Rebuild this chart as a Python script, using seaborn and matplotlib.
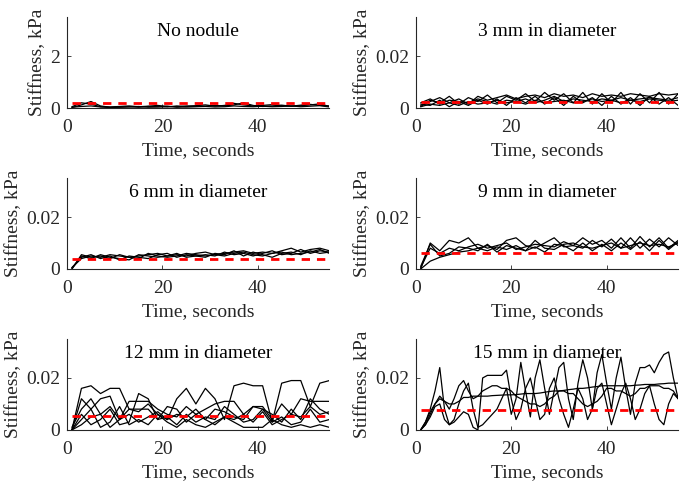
import matplotlib
matplotlib.use('Agg')
import matplotlib.pyplot as plt
import seaborn as sns

# time samples, seconds
t2 = [1, 3, 5, 7, 9, 11, 13, 15, 17, 19, 21, 23, 25, 27,
      29, 31, 33, 35, 37, 39, 41, 43, 45, 47, 49, 51, 53, 55]
t1 = [1, 2, 3, 4, 5, 6, 7, 8, 9, 10, 11, 12, 13, 14, 15, 16, 17, 18, 19,
      20, 21, 22, 23, 24, 25, 26, 27, 28, 29, 30, 31, 32, 33, 34, 35, 36, 37,
      38, 39, 40, 41, 42, 43, 44, 45, 46, 47, 48, 49, 50, 51, 52, 53, 54, 55]

# No nodule (kPa)
nn_a = [0.05, 0.20, 0.15, 0.05, 0.04, 0.06, 0.08, 0.05, 0.07, 0.10, 0.06, 0.05, 0.08, 0.09,
        0.12, 0.07, 0.10, 0.18, 0.12, 0.08, 0.10, 0.13, 0.09, 0.07, 0.11, 0.14, 0.10, 0.08]
nn_b = [0.02, 0.12, 0.25, 0.08, 0.03, 0.04, 0.05, 0.03, 0.06, 0.05, 0.04, 0.08, 0.05, 0.06,
        0.07, 0.10, 0.08, 0.12, 0.20, 0.10, 0.06, 0.08, 0.11, 0.07, 0.09, 0.12, 0.16, 0.06]
nn_c = [0.03, 0.06, 0.08, 0.04, 0.02, 0.03, 0.04, 0.06, 0.03, 0.04, 0.07, 0.03, 0.04, 0.05,
        0.06, 0.04, 0.05, 0.08, 0.06, 0.05, 0.07, 0.05, 0.06, 0.08, 0.05, 0.07, 0.09, 0.04]

# 3 mm
d3_a = [0.0005, 0.0030, 0.0020, 0.0045, 0.0015, 0.0040, 0.0025, 0.0050, 0.0020, 0.0045,
        0.0030, 0.0055, 0.0025, 0.0060, 0.0030, 0.0055, 0.0020, 0.0060, 0.0015, 0.0055,
        0.0020, 0.0060, 0.0015, 0.0055, 0.0020, 0.0060, 0.0015, 0.0055]
d3_b = [0.0010, 0.0025, 0.0040, 0.0020, 0.0035, 0.0015, 0.0045, 0.0030, 0.0040, 0.0050,
        0.0035, 0.0045, 0.0050, 0.0040, 0.0055, 0.0045, 0.0050, 0.0040, 0.0055, 0.0045,
        0.0050, 0.0045, 0.0055, 0.0050, 0.0045, 0.0055, 0.0050, 0.0055]
d3_c = [0.0015, 0.0010, 0.0030, 0.0005, 0.0025, 0.0010, 0.0030, 0.0015, 0.0035, 0.0010,
        0.0040, 0.0020, 0.0045, 0.0015, 0.0040, 0.0010, 0.0045, 0.0020, 0.0040, 0.0010,
        0.0045, 0.0015, 0.0040, 0.0010, 0.0045, 0.0015, 0.0040, 0.0010]
d3_d = [0.0020, 0.0035, 0.0015, 0.0030, 0.0025, 0.0020, 0.0035, 0.0025, 0.0015, 0.0030,
        0.0025, 0.0035, 0.0020, 0.0030, 0.0045, 0.0025, 0.0035, 0.0030, 0.0025, 0.0035,
        0.0030, 0.0040, 0.0030, 0.0035, 0.0040, 0.0035, 0.0030, 0.0040]
d3_e = [0.0005, 0.0015, 0.0010, 0.0020, 0.0010, 0.0025, 0.0015, 0.0020, 0.0030, 0.0020,
        0.0025, 0.0015, 0.0030, 0.0020, 0.0025, 0.0030, 0.0020, 0.0025, 0.0035, 0.0025,
        0.0030, 0.0020, 0.0030, 0.0025, 0.0035, 0.0030, 0.0025, 0.0030]

# 6 mm
d6_a = [0.0000, 0.0055, 0.0045, 0.0050, 0.0040, 0.0055, 0.0045, 0.0050, 0.0055, 0.0060,
        0.0050, 0.0055, 0.0050, 0.0060, 0.0065, 0.0055, 0.0060, 0.0065, 0.0070, 0.0060,
        0.0065, 0.0060, 0.0070, 0.0080, 0.0065, 0.0075, 0.0080, 0.0070]
d6_b = [0.0005, 0.0045, 0.0055, 0.0040, 0.0050, 0.0035, 0.0050, 0.0045, 0.0040, 0.0055,
        0.0060, 0.0045, 0.0055, 0.0050, 0.0045, 0.0060, 0.0055, 0.0070, 0.0050, 0.0065,
        0.0055, 0.0045, 0.0060, 0.0065, 0.0055, 0.0070, 0.0060, 0.0065]
d6_c = [0.0000, 0.0050, 0.0040, 0.0055, 0.0045, 0.0040, 0.0035, 0.0055, 0.0050, 0.0045,
        0.0050, 0.0060, 0.0045, 0.0050, 0.0055, 0.0050, 0.0065, 0.0055, 0.0060, 0.0050,
        0.0060, 0.0070, 0.0055, 0.0060, 0.0075, 0.0060, 0.0070, 0.0065]
d6_d = [0.0005, 0.0040, 0.0050, 0.0045, 0.0055, 0.0050, 0.0045, 0.0040, 0.0060, 0.0050,
        0.0045, 0.0050, 0.0060, 0.0055, 0.0050, 0.0055, 0.0050, 0.0060, 0.0065, 0.0055,
        0.0050, 0.0060, 0.0065, 0.0055, 0.0060, 0.0065, 0.0075, 0.0060]

# 9 mm
d9_a = [0.0000, 0.0100, 0.0070, 0.0110, 0.0100, 0.0120, 0.0080, 0.0090, 0.0075, 0.0110,
        0.0120, 0.0090, 0.0080, 0.0100, 0.0120, 0.0085, 0.0090, 0.0120, 0.0095, 0.0110,
        0.0080, 0.0120, 0.0080, 0.0125, 0.0085, 0.0120, 0.0080, 0.0110]
d9_b = [0.0005, 0.0080, 0.0060, 0.0080, 0.0070, 0.0085, 0.0095, 0.0080, 0.0090, 0.0100,
        0.0075, 0.0085, 0.0095, 0.0090, 0.0085, 0.0105, 0.0090, 0.0080, 0.0110, 0.0085,
        0.0115, 0.0080, 0.0120, 0.0080, 0.0115, 0.0085, 0.0120, 0.0090]
d9_c = [0.0000, 0.0030, 0.0045, 0.0055, 0.0065, 0.0070, 0.0080, 0.0070, 0.0085, 0.0075,
        0.0090, 0.0070, 0.0085, 0.0065, 0.0095, 0.0090, 0.0070, 0.0100, 0.0070, 0.0095,
        0.0070, 0.0100, 0.0075, 0.0105, 0.0070, 0.0110, 0.0075, 0.0105]
d9_d = [0.0010, 0.0095, 0.0050, 0.0060, 0.0085, 0.0080, 0.0070, 0.0095, 0.0065, 0.0090,
        0.0080, 0.0070, 0.0110, 0.0080, 0.0075, 0.0095, 0.0100, 0.0085, 0.0080, 0.0090,
        0.0100, 0.0080, 0.0090, 0.0100, 0.0090, 0.0095, 0.0085, 0.0100]

# 12 mm
d12_a = [0.000, 0.016, 0.017, 0.014, 0.016, 0.016, 0.008, 0.007, 0.010, 0.006, 0.004, 0.012,
         0.016, 0.010, 0.016, 0.012, 0.004, 0.017, 0.018, 0.017, 0.017, 0.003, 0.018, 0.019,
         0.019, 0.009, 0.018, 0.019]
d12_b = [0.000, 0.012, 0.008, 0.012, 0.013, 0.004, 0.011, 0.011, 0.011, 0.008, 0.006, 0.005,
         0.009, 0.006, 0.008, 0.010, 0.011, 0.011, 0.006, 0.009, 0.009, 0.004, 0.010, 0.006,
         0.012, 0.011, 0.011, 0.011]
d12_c = [0.001, 0.008, 0.012, 0.006, 0.009, 0.004, 0.008, 0.008, 0.008, 0.004, 0.009, 0.008,
         0.003, 0.006, 0.004, 0.008, 0.007, 0.005, 0.004, 0.009, 0.008, 0.006, 0.003, 0.008,
         0.004, 0.012, 0.008, 0.006]
d12_d = [0.000, 0.006, 0.002, 0.004, 0.008, 0.002, 0.003, 0.014, 0.012, 0.004, 0.005, 0.002,
         0.006, 0.003, 0.005, 0.004, 0.009, 0.006, 0.003, 0.004, 0.008, 0.003, 0.005, 0.002,
         0.003, 0.008, 0.003, 0.004]
d12_e = [0.000, 0.004, 0.008, 0.001, 0.003, 0.009, 0.002, 0.004, 0.002, 0.006, 0.003, 0.001,
         0.004, 0.002, 0.001, 0.003, 0.005, 0.003, 0.001, 0.001, 0.001, 0.004, 0.002, 0.001,
         0.002, 0.001, 0.002, 0.001]
d12_f = [0.000, 0.002, 0.005, 0.006, 0.001, 0.004, 0.006, 0.003, 0.005, 0.007, 0.004, 0.006,
         0.005, 0.008, 0.004, 0.002, 0.005, 0.004, 0.006, 0.003, 0.007, 0.002, 0.004, 0.006,
         0.005, 0.009, 0.006, 0.007]

# 15 mm (1 s samples)
d15_a = [0.000, 0.003, 0.008, 0.015, 0.024, 0.008, 0.002, 0.004, 0.010, 0.015, 0.018,
         0.008, 0.001, 0.002, 0.004, 0.006, 0.008, 0.012, 0.016, 0.006, 0.012, 0.026,
         0.015, 0.005, 0.020, 0.027, 0.016, 0.006, 0.015, 0.024, 0.026, 0.012, 0.004,
         0.018, 0.027, 0.020, 0.008, 0.022, 0.029, 0.018, 0.008, 0.020, 0.028, 0.016,
         0.006, 0.018, 0.024, 0.024, 0.025, 0.022, 0.026, 0.029, 0.030, 0.020, 0.012]
d15_b = [0.000, 0.003, 0.007, 0.010, 0.012, 0.011, 0.010, 0.010, 0.011, 0.0125, 0.0125,
         0.013, 0.013, 0.013, 0.013, 0.0132, 0.0133, 0.0134, 0.0135, 0.0135, 0.0136, 0.0138,
         0.014, 0.014, 0.014, 0.0142, 0.0145, 0.0148, 0.015, 0.015, 0.0152, 0.0155, 0.0157,
         0.016, 0.016, 0.0162, 0.0165, 0.0167, 0.017, 0.017, 0.017, 0.017, 0.017, 0.017,
         0.017, 0.0172, 0.0173, 0.0175, 0.0175, 0.0175, 0.0177, 0.0178, 0.018, 0.018, 0.018]
d15_c = [0.000, 0.002, 0.005, 0.009, 0.010, 0.004, 0.002, 0.003, 0.005, 0.007, 0.006,
         0.001, 0.000, 0.020, 0.021, 0.021, 0.021, 0.021, 0.023, 0.012, 0.004, 0.008,
         0.016, 0.020, 0.012, 0.004, 0.006, 0.016, 0.020, 0.012, 0.006, 0.001, 0.008,
         0.016, 0.012, 0.004, 0.008, 0.016, 0.018, 0.010, 0.002, 0.008, 0.014, 0.018,
         0.012, 0.004, 0.008, 0.014, 0.017, 0.010, 0.004, 0.002, 0.010, 0.014, 0.012]
d15_d = [0.000, 0.002, 0.006, 0.010, 0.013, 0.011, 0.008, 0.012, 0.017, 0.019, 0.015,
         0.012, 0.013, 0.015, 0.016, 0.017, 0.017, 0.016, 0.016, 0.015, 0.013, 0.012,
         0.011, 0.010, 0.010, 0.009, 0.010, 0.012, 0.013, 0.015, 0.015, 0.014, 0.014,
         0.012, 0.010, 0.009, 0.010, 0.011, 0.013, 0.016, 0.016, 0.015, 0.015, 0.014,
         0.013, 0.014, 0.016, 0.016, 0.017, 0.017, 0.017, 0.016, 0.016, 0.015, 0.012]

titles = ['No nodule', '3 mm in diameter', '6 mm in diameter',
          '9 mm in diameter', '12 mm in diameter', '15 mm in diameter']
levels = [0.2, 0.0025, 0.004, 0.006, 0.0055, 0.0075]
panels = [
    (t2, [nn_a, nn_b, nn_c]),
    (t2, [d3_a, d3_b, d3_c, d3_d, d3_e]),
    (t2, [d6_a, d6_b, d6_c, d6_d]),
    (t2, [d9_a, d9_b, d9_c, d9_d]),
    (t2, [d12_a, d12_b, d12_c, d12_d, d12_e, d12_f]),
    (t1, [d15_a, d15_b, d15_c, d15_d]),
]

sns.set_theme(style='ticks')
plt.rcParams['font.family'] = ['Liberation Serif', 'DejaVu Serif']
plt.rcParams['font.size'] = 14
gray = '#262626'

fig, axes = plt.subplots(3, 2, figsize=(6.85, 4.88), dpi=100)
fig.subplots_adjust(left=0.098, right=0.99, bottom=0.119, top=0.965,
                    wspace=0.33, hspace=0.77)

for i, ax in enumerate(axes.flat):
    t, traces = panels[i]
    for y in traces:
        sns.lineplot(x=t, y=y, ax=ax, color='black', lw=0.9)
    sns.lineplot(x=[t[0], t[-1]], y=[levels[i], levels[i]], ax=ax,
                 color='red', lw=2, linestyle=(0, (3, 2.5)))
    ax.set_xlim(0, 55)
    if i == 0:
        ax.set_ylim(0, 3.5)
        ax.set_yticks([0, 2])
        ax.set_yticklabels(['0', '2'])
    else:
        ax.set_ylim(0, 0.035)
        ax.set_yticks([0, 0.02])
        ax.set_yticklabels(['0', '0.02'])
    ax.set_xticks([0, 20, 40])
    ax.set_xticklabels(['0', '20', '40'])
    ax.text(0.5, 0.84, titles[i], transform=ax.transAxes, ha='center',
            va='center', fontsize=14, color='black')
    ax.set_xlabel('Time, seconds', fontsize=14, color=gray, labelpad=4)
    ax.set_ylabel('Stiffness, kPa', fontsize=14, color=gray, labelpad=3)
    ax.tick_params(direction='in', length=3, width=0.6, colors=gray,
                   labelsize=14)
    ax.tick_params(axis='x', pad=8)
    ax.tick_params(axis='y', pad=5)
    sns.despine(ax=ax)
    for s in ['left', 'bottom']:
        ax.spines[s].set_color(gray)
        ax.spines[s].set_linewidth(0.8)

plt.savefig('out.png', dpi=100)
